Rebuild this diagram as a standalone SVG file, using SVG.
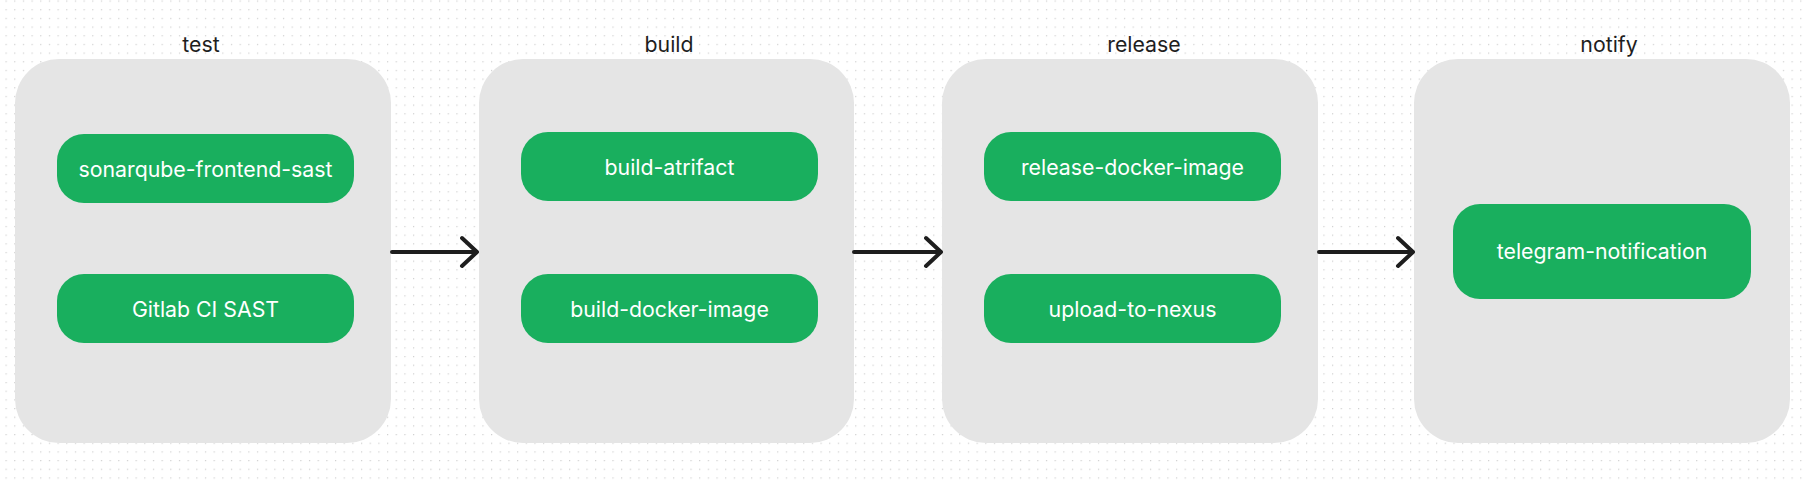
<svg xmlns="http://www.w3.org/2000/svg" width="1805" height="485" viewBox="0 0 1805 485">
  <style>
    .stage { fill: #e5e5e5; }
    .job { fill: #19af5e; }
    .jobtxt { font-family: Inter, "Liberation Sans", sans-serif; font-size: 21.3px; fill: #ffffff; text-anchor: middle; }
    .lbl { font-family: Inter, "Liberation Sans", sans-serif; font-size: 21.3px; fill: #1e1e1e; text-anchor: middle; }
    .conn { stroke: #1e1e1e; stroke-width: 4; fill: none; stroke-linecap: round; stroke-linejoin: round; }
  </style>
  <defs>
    <pattern id="dots" patternUnits="userSpaceOnUse" x="5.5" y="0.5" width="8.67" height="8.67">
      <rect x="0" y="0" width="1.2" height="1.2" fill="#cfcfcf"/>
    </pattern>
  </defs>
  <rect width="1805" height="485" fill="#ffffff"/>
  <rect width="1805" height="485" fill="url(#dots)"/>

  <g id="stage-test">
    <rect class="stage" x="15" y="59" width="376" height="384" rx="44"/>
    <text class="lbl" x="201" y="52">test</text>
    <g id="job-sonarqube">
      <rect class="job" x="57" y="134" width="297" height="69" rx="27"/>
      <text class="jobtxt" x="205.5" y="176.5">sonarqube-frontend-sast</text>
    </g>
    <g id="job-gitlab-sast">
      <rect class="job" x="57" y="274" width="297" height="69" rx="27"/>
      <text class="jobtxt" x="205.5" y="316.5">Gitlab CI SAST</text>
    </g>
  </g>

  <g id="stage-build">
    <rect class="stage" x="479" y="59" width="375" height="384" rx="44"/>
    <text class="lbl" x="669" y="52">build</text>
    <g id="job-build-atrifact">
      <rect class="job" x="521" y="132" width="297" height="69" rx="27"/>
      <text class="jobtxt" x="669.5" y="174.5">build-atrifact</text>
    </g>
    <g id="job-build-docker-image">
      <rect class="job" x="521" y="274" width="297" height="69" rx="27"/>
      <text class="jobtxt" x="669.5" y="316.5">build-docker-image</text>
    </g>
  </g>

  <g id="stage-release">
    <rect class="stage" x="942" y="59" width="376" height="384" rx="44"/>
    <text class="lbl" x="1144" y="52">release</text>
    <g id="job-release-docker-image">
      <rect class="job" x="984" y="132" width="297" height="69" rx="27"/>
      <text class="jobtxt" x="1132.5" y="174.5">release-docker-image</text>
    </g>
    <g id="job-upload-to-nexus">
      <rect class="job" x="984" y="274" width="297" height="69" rx="27"/>
      <text class="jobtxt" x="1132.5" y="316.5">upload-to-nexus</text>
    </g>
  </g>

  <g id="stage-notify">
    <rect class="stage" x="1414" y="59" width="376" height="384" rx="44"/>
    <text class="lbl" x="1609" y="52">notify</text>
    <g id="job-telegram-notification">
      <rect class="job" x="1453" y="204" width="298" height="95" rx="27"/>
      <text class="jobtxt" x="1602" y="259">telegram-notification</text>
    </g>
  </g>

  <g id="connectors">
    <path class="conn" d="M392 252 H477 M462 238 L477 252 L462 266"/>
    <path class="conn" d="M854 252 H941 M926 238 L941 252 L926 266"/>
    <path class="conn" d="M1319 252 H1413 M1398 238 L1413 252 L1398 266"/>
  </g>
</svg>
